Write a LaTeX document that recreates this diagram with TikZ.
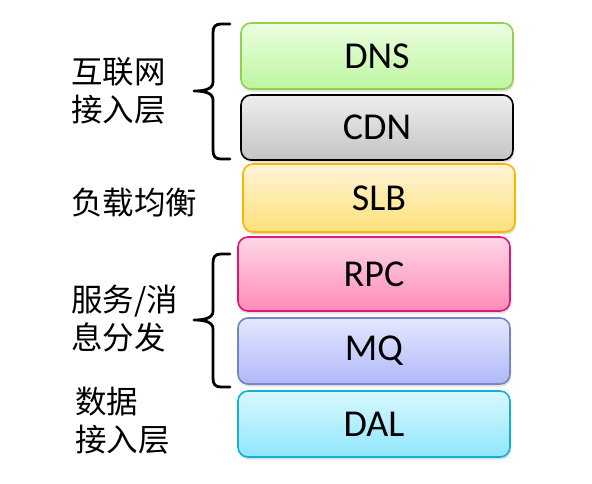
\documentclass[tikz,border=0pt]{standalone}
\usepackage{fontspec}
\setmainfont{Carlito}
\newfontfamily\cjk{Noto Sans CJK SC}
\usetikzlibrary{shadows}
\definecolor{dnsB}{HTML}{92D050}\definecolor{dnsT}{HTML}{EBFFE0}\definecolor{dnsD}{HTML}{BDF5A0}
\definecolor{cdnB}{HTML}{000000}\definecolor{cdnT}{HTML}{EEEEEE}\definecolor{cdnD}{HTML}{C4C4C4}
\definecolor{slbB}{HTML}{FFB400}\definecolor{slbT}{HTML}{FFF5D8}\definecolor{slbD}{HTML}{FFE07A}
\definecolor{rpcB}{HTML}{E6147A}\definecolor{rpcT}{HTML}{FFD6E6}\definecolor{rpcD}{HTML}{FF8CB8}
\definecolor{mqB}{HTML}{7384C8}\definecolor{mqT}{HTML}{E4E8FF}\definecolor{mqD}{HTML}{B0B8F8}
\definecolor{dalB}{HTML}{12B0D8}\definecolor{dalT}{HTML}{D8F8FF}\definecolor{dalD}{HTML}{90E6FC}
\tikzset{
  layer/.style n args={3}{draw=#1, top color=#2, bottom color=#3, line width=1.6pt,
    rounded corners=10pt, minimum width=272pt, inner sep=0pt,
    font=\fontsize{38}{40}\selectfont,
    drop shadow={opacity=0.25, shadow xshift=1pt, shadow yshift=-2.5pt}},
  lbl/.style={anchor=west, inner sep=0pt, align=left, font=\cjk\fontsize{31.5}{38}\selectfont},
  bracepath/.style={line width=2.8pt, line cap=round, line join=round}
}
\begin{document}
\begin{tikzpicture}[x=1pt,y=-1pt]
\useasboundingbox (0,0) rectangle (592,483);
\node[layer={dnsB}{dnsT}{dnsD}, minimum height=66pt] (dns) at (377,56) {DNS};
\node[layer={cdnB}{cdnT}{cdnD}, minimum height=65pt] (cdn) at (377,127.5) {CDN};
\node[layer={slbB}{slbT}{slbD}, minimum height=68pt] (slb) at (379,198) {SLB};
\node[layer={rpcB}{rpcT}{rpcD}, minimum height=74pt] (rpc) at (374,274) {RPC};
\node[layer={mqB}{mqT}{mqD}, minimum height=66pt] (mq) at (374,351) {MQ};
\node[layer={dalB}{dalT}{dalD}, minimum height=66pt] (dal) at (374,424) {DAL};

\node[lbl] (l1) at (71,91) {互联网\\接入层};
\node[lbl] (l2) at (71,203) {负载均衡};
\node[lbl] (l3) at (71,319) {服务/消\\息分发};
\node[lbl] (l4) at (75,421) {数据\\接入层};

\draw[bracepath] (230,24) -- (221,24) .. controls (215,24) and (213,27) .. (213,33)
  -- (213,82) .. controls (213,89) and (205,91) .. (194,91)
  .. controls (205,91) and (213,93) .. (213,100)
  -- (213,150) .. controls (213,156) and (215,159) .. (221,159) -- (230,159);
\draw[bracepath] (230,254) -- (221,254) .. controls (215,254) and (213,257) .. (213,263)
  -- (213,311) .. controls (213,318) and (205,320) .. (194,320)
  .. controls (205,320) and (213,322) .. (213,329)
  -- (213,378) .. controls (213,384) and (215,387) .. (221,387) -- (230,387);
\end{tikzpicture}
\end{document}
